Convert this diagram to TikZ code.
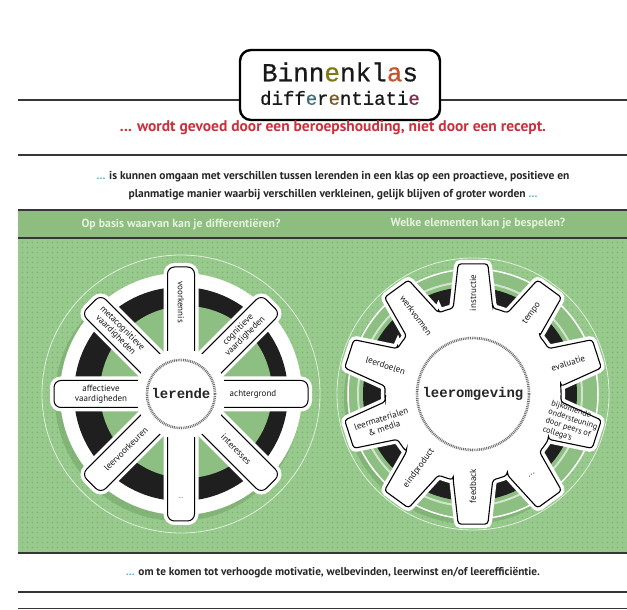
\documentclass[tikz,border=0pt]{standalone}
\usepackage{fontspec}
\setmainfont{PT Sans}
\newfontfamily\typewriterfont{Liberation Mono}
\newfontfamily\titlefont{Liberation Mono}[FakeBold=0.7]
\usepackage{xcolor}
\usepackage{tikz}
\usetikzlibrary{positioning,calc,patterns.meta}

\definecolor{rulegray}{HTML}{363636}
\definecolor{recipered}{HTML}{C9313B}
\definecolor{ellipsisblue}{HTML}{5AAED6}
\definecolor{bandgreen}{HTML}{8DBE80}
\definecolor{bandletters}{HTML}{E6F2DF}
\definecolor{fieldgreen}{HTML}{97CA8C}
\definecolor{dotgreen}{HTML}{80B475}
\definecolor{wheelgreen}{HTML}{8CBF81}
\definecolor{shadowgreen}{HTML}{6FA263}
\definecolor{hubgray}{HTML}{6E6E6E}
\definecolor{titleolive}{HTML}{7D7C14}
\definecolor{titleorange}{HTML}{C4552E}
\definecolor{titleteal}{HTML}{3F6F7C}
\definecolor{titlebrown}{HTML}{7A5A2A}
\definecolor{titleplum}{HTML}{7B2E4E}

\tikzdeclarepattern{
  name=fielddots, type=uncolored,
  bottom left={(-0.1pt,-0.1pt)}, top right={(5.1pt,5.1pt)},
  tile size={(5pt,5pt)},
  code={\fill (2.5pt,2.5pt) circle (0.9pt);}
}

\tikzset{
  rule/.style={line width=2.6pt, draw=rulegray},
  every node/.style={anchor=center}
}

\begin{document}
\begin{tikzpicture}[
  x=1pt, y=1pt,
  titlebox/.style={draw=black, line width=2.4pt, rounded corners=11pt, fill=white, minimum width=200pt, minimum height=70pt, inner sep=0pt},
  titletext/.style={text=black!90, inner sep=0pt},
  maintext/.style={font=\bfseries\fontsize{11.5}{18}\selectfont, text=black!85, align=center, inner sep=0pt},
  bandtext/.style={font=\bfseries\fontsize{11.8}{13}\selectfont, text=bandletters, inner sep=0pt},
  spoke/.style={draw=black, line width=1pt, fill=white, rounded corners=7pt, minimum height=27pt, inner sep=0pt, preaction={draw=white, line width=8pt}},
  hub/.style={circle, fill=white, draw=hubgray, line width=2.6pt, dash pattern=on 0.9pt off 0.9pt, inner sep=0pt, font=\typewriterfont\bfseries\fontsize{14}{16}\selectfont, text=black!85},
  spokelabel/.style={font=\fontsize{9}{9.6}\selectfont, align=center, inner sep=0pt, text=black!90},
  gear/.style={draw=black, line width=1.1pt, fill=white, rounded corners=3pt, preaction={draw=white, line width=8pt}}
]
\useasboundingbox (0,0) rectangle (627,610);

% green band and field
\fill[bandgreen] (18,372) rectangle (627,400);
\fill[fieldgreen] (18,57) rectangle (627,372);
\fill[pattern=fielddots, pattern color=dotgreen] (18,57) rectangle (627,372);
\draw[rule] (18,400) -- (627,400);
\draw[rulegray, line width=1.6pt] (18,372) -- (627,372);
\draw[rulegray, line width=2pt] (18,57) -- (627,57);
\node[bandtext] (basis)     at (181,386) {Op basis waarvan kan je differentiëren?};
\node[bandtext] (elementen) at (478,386) {Welke elementen kan je bespelen?};

\coordinate (lc) at (181,216);
\coordinate (gc) at (473,216);

% left wheel
\draw[white, opacity=0.7, line width=0.8pt] (lc) circle (139);
\fill[shadowgreen, opacity=0.5] ($(lc)+(-3,-4)$) circle (123);
\fill[white] (lc) circle (121);
\fill[black!88] (lc) circle (107);
\fill[wheelgreen] ($(lc)+(5,2)$) circle (86);
\node[spoke, minimum width=97pt, rotate=90]   (sp-n)  at ($(lc)+(90:78.5)$)   {};
\node[spoke, minimum width=97pt, rotate=45]   (sp-ne) at ($(lc)+(45:78.5)$)   {};
\node[spoke, minimum width=97pt, rotate=0]    (sp-e)  at ($(lc)+(0:78.5)$)    {};
\node[spoke, minimum width=97pt, rotate=-45]  (sp-se) at ($(lc)+(-45:78.5)$)  {};
\node[spoke, minimum width=97pt, rotate=-90]  (sp-s)  at ($(lc)+(-90:78.5)$)  {};
\node[spoke, minimum width=97pt, rotate=-135] (sp-sw) at ($(lc)+(-135:78.5)$) {};
\node[spoke, minimum width=97pt, rotate=180]  (sp-w)  at ($(lc)+(180:78.5)$)  {};
\node[spoke, minimum width=97pt, rotate=135]  (sp-nw) at ($(lc)+(135:78.5)$)  {};
\fill[white] (lc) circle (45);
\node[hub, minimum size=68pt] (lerende) at (lc) {lerende};

% spoke labels
\node[spokelabel, rotate=-90] (voorkennis)     at ($(lc)+(90:92)$)   {voorkennis};
\node[spokelabel, rotate=45]  (cognitief)      at ($(lc)+(45:86)$)   {cognitieve\\vaardigheden};
\node[spokelabel]             (achtergrond)    at ($(lc)+(0:72)$)    {achtergrond};
\node[spokelabel, rotate=-45] (interesses)     at ($(lc)+(-45:78)$)  {interesses};
\node[spokelabel, font=\fontsize{6}{6}\selectfont] (lerende-meer) at ($(lc)+(-90:104)$) {...};
\node[spokelabel, rotate=45]  (leervoorkeuren) at ($(lc)+(-135:78)$) {leervoorkeuren};
\node[spokelabel]             (affectief)      at ($(lc)+(180:80)$)  {affectieve\\vaardigheden};
\node[spokelabel, rotate=-45] (metacognitief)  at ($(lc)+(135:88)$)  {metacognitieve\\vaardigheden};

% right gear
\draw[white, opacity=0.7, line width=0.8pt] (gc) circle (136);
\fill[shadowgreen, opacity=0.5] ($(gc)+(-3,-4)$) circle (126);
\fill[wheelgreen] (gc) circle (125);
\draw[white, line width=1.5pt] (gc) circle (125);
\draw[white!60!wheelgreen, line width=2pt] ($(gc)+(-3,0)$) circle (112);
\fill[black!88] ($(gc)+(-3,0)$) circle (107);
\path[gear, shift={(gc)}] (77:88)
  \foreach \a in {90,126,...,414} {
    -- (\a-13:88) -- (\a-6.5:131) -- (\a+6.5:131) -- (\a+13:88)
    arc[start angle=\a+13, end angle=\a+23, radius=88]
  } -- cycle;
\node[hub, minimum size=112pt] (leeromgeving) at (gc) {leeromgeving};

% tooth labels
\node[spokelabel, rotate=90]  (instructie)    at ($(gc)+(90:101)$)   {instructie};
\node[spokelabel, rotate=54]  (tempo)         at ($(gc)+(54:100)$)   {tempo};
\node[spokelabel, rotate=18]  (evaluatie)     at ($(gc)+(18:100)$)   {evaluatie};
\node[spokelabel, rotate=-18, align=left, font=\fontsize{8.3}{9.2}\selectfont] (bijkomend) at ($(gc)+(-17:103)$) {bijkomende\\ondersteuning\\door peers of\\collega's};
\node[spokelabel, rotate=36]  (omgeving-meer) at ($(gc)+(-54:100)$)  {...};
\node[spokelabel, rotate=90]  (feedback)      at ($(gc)+(-90:92)$)   {feedback};
\node[spokelabel, rotate=54]  (eindproduct)   at ($(gc)+(-126:92)$)  {eindproduct};
\node[spokelabel, rotate=18]  (leermateriaal) at ($(gc)+(-162:95)$)  {leermaterialen\\\& media};
\node[spokelabel, rotate=-18] (leerdoelen)    at ($(gc)+(162:92)$)   {leerdoelen};
\node[spokelabel, rotate=-54] (werkvormen)    at ($(gc)+(126:97)$)   {werkvormen};

% title and top texts
\draw[rule] (18,510) -- (627,510);
\node[titlebox] (title) at (340,525) {};
\node[titletext, font=\titlefont\fontsize{26}{26}\selectfont] (binnenklas) at (340,538) {Binn\textcolor{titleolive}{e}nkl\textcolor{titleorange}{a}s};
\node[titletext, font=\titlefont\fontsize{19}{19}\selectfont] (differentiatie) at (340,512) {diff\textcolor{titleteal}{e}r\textcolor{titlebrown}{e}ntiati\textcolor{titleplum}{e}};
\node[font=\bfseries\fontsize{15.5}{17}\selectfont, text=recipered, inner sep=0pt] (recept) at (333,482) {... wordt gevoed door een beroepshouding, niet door een recept.};
\draw[rule] (18,455) -- (627,455);
\node[maintext] (definitie) at (333,424) {\textcolor{ellipsisblue}{...} is kunnen omgaan met verschillen tussen lerenden in een klas op een proactieve, positieve en\\planmatige manier waarbij verschillen verkleinen, gelijk blijven of groter worden \textcolor{ellipsisblue}{...}};

% bottom
\node[maintext, font=\bfseries\fontsize{11.3}{13}\selectfont] (doel) at (333,37) {\textcolor{ellipsisblue}{...} om te komen tot verhoogde motivatie, welbevinden, leerwinst en/of leerefficiëntie.};
\draw[rule] (18,18) -- (627,18);
\draw[rulegray, line width=1.5pt] (18,1.5) -- (627,1.5);

\end{tikzpicture}
\end{document}
